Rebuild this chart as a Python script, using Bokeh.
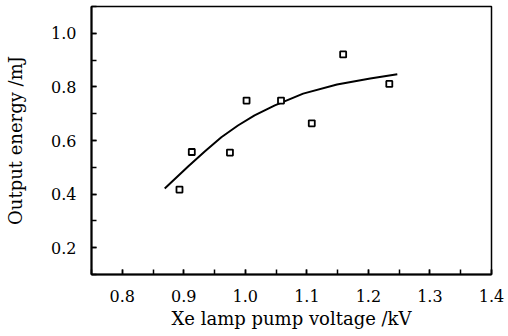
from bokeh.plotting import figure
from bokeh.models import Range1d, SingleIntervalTicker, PrintfTickFormatter, Title
from bokeh.embed import file_html
from bokeh.resources import INLINE

# measured data points (Xe lamp pump voltage kV, output energy mJ)
voltage = [0.893, 0.913, 0.975, 1.002, 1.058, 1.108, 1.159, 1.234]
energy = [0.417, 0.557, 0.555, 0.749, 0.749, 0.664, 0.921, 0.811]

# fitted curve
fit_x = [0.869, 0.907, 0.934, 0.961, 0.988, 1.015, 1.048, 1.094, 1.149, 1.203, 1.247]
fit_y = [0.421, 0.503, 0.559, 0.612, 0.656, 0.694, 0.731, 0.775, 0.809, 0.831, 0.847]

FONT = "DejaVu Serif"

p = figure(width=508, height=336, output_backend="svg", toolbar_location=None,
           x_range=Range1d(0.75, 1.4001), y_range=Range1d(0.1, 1.1),
           min_border_left=91, min_border_right=17, min_border_top=6, min_border_bottom=62)

p.grid.visible = False
p.background_fill_color = "white"
p.border_fill_color = "white"
p.outline_line_color = "black"
p.outline_line_width = 1.5

p.xaxis.ticker = SingleIntervalTicker(interval=0.1, num_minor_ticks=2)
p.yaxis.ticker = SingleIntervalTicker(interval=0.2, num_minor_ticks=2)
for ax in (p.xaxis[0], p.yaxis[0]):
    ax.formatter = PrintfTickFormatter(format="%.1f")
    ax.axis_line_width = 2
    ax.axis_line_color = "black"
    ax.major_tick_in = 5
    ax.major_tick_out = 0
    ax.minor_tick_in = 5
    ax.minor_tick_out = 0
    ax.major_tick_line_width = 1.5
    ax.minor_tick_line_width = 1.5
    ax.major_label_text_font = FONT
    ax.major_label_text_font_size = "16px"
    ax.major_label_text_color = "black"
    ax.major_label_standoff = 15
    ax.axis_label_text_font = FONT
    ax.axis_label_text_font_size = "18px"
    ax.axis_label_text_font_style = "normal"
    ax.axis_label_text_color = "black"

p.yaxis.axis_label = "Output energy /mJ"
p.yaxis.axis_label_standoff = 22

p.line(fit_x, fit_y, line_color="black", line_width=2)
p.scatter(voltage, energy, marker="square", size=6, fill_color="white",
          line_color="black", line_width=1.8)

xlab = Title(text="Xe lamp pump voltage /kV", align="center", offset=16,
             text_font=FONT, text_font_size="18px", text_font_style="normal",
             text_color="black", standoff=2)
p.add_layout(xlab, "below")

open("out.html", "w").write(file_html(p, INLINE))
